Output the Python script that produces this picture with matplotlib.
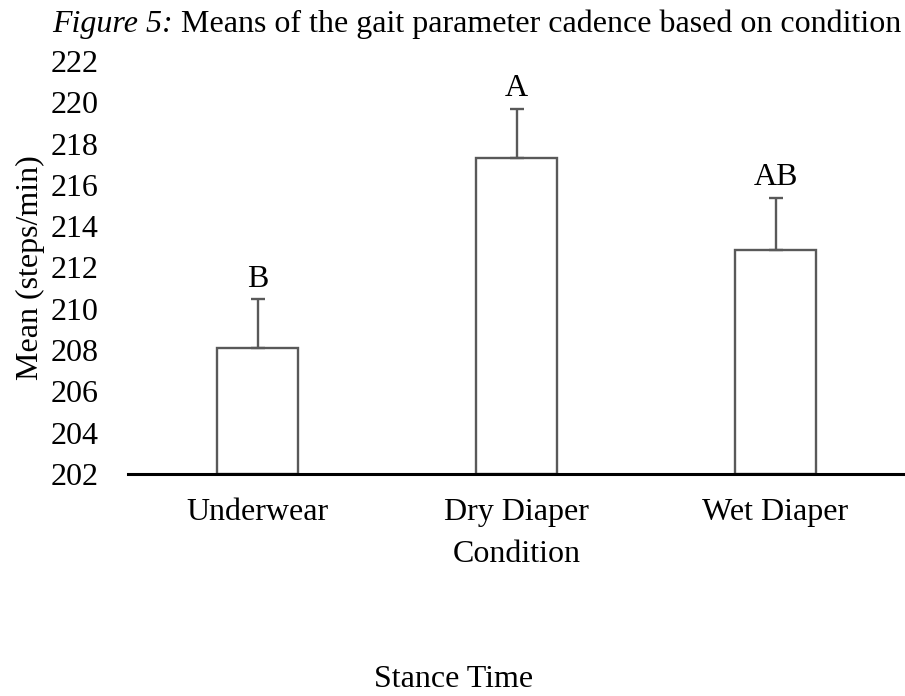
import matplotlib
matplotlib.use("Agg")
import matplotlib.pyplot as plt

categories = ["Underwear", "Dry Diaper", "Wet Diaper"]
means = [208.1, 217.3, 212.85]
errors = [2.37, 2.38, 2.52]
letters = ["B", "A", "AB"]
yticks = list(range(202, 223, 2))

plt.rcParams['font.family'] = ['Liberation Serif', 'DejaVu Serif']
FS = 23

fig = plt.figure(figsize=(9.05, 6.96), dpi=100)
W, H = 905, 696
ax = fig.add_axes([128 / W, 1 - 474 / H, (905 - 128) / W, (474 - 61) / H])

x = list(range(len(categories)))
ax.bar(x, [m - 202 for m in means], bottom=202, width=0.315, color="white",
       edgecolor="#595959", linewidth=1.7, zorder=2)
ax.errorbar(x, means, yerr=[[0] * 3, errors], fmt="none", ecolor="#595959",
            elinewidth=1.7, capsize=5, capthick=1.7, zorder=3)
for xi, m, e, lab in zip(x, means, errors, letters):
    ax.annotate(lab, (xi, m + e), xytext=(0, 9), textcoords="offset points",
                ha="center", va="baseline", fontsize=FS)

ax.set_xlim(-0.5, 2.5)
ax.set_ylim(202, 222)
ax.set_yticks(yticks)
ax.set_xticks(x)
ax.set_xticklabels(categories, fontsize=FS)
ax.tick_params(axis="y", labelsize=FS, length=0, pad=21.5)
ax.tick_params(axis="x", length=0, pad=17.5)
for s in ["top", "right", "left"]:
    ax.spines[s].set_visible(False)
ax.spines["bottom"].set_linewidth(2.2)
ax.spines["bottom"].set_color("black")
ax.spines["bottom"].set_zorder(5)

ax.set_ylabel("Mean (steps/min)", fontsize=FS, va="center", ha="center")
ax.yaxis.set_label_coords((30 - 128) / 777, 0.5)
ax.set_xlabel("Condition", fontsize=FS, va="baseline", ha="center")
ax.xaxis.set_label_coords(0.5, (474 - 562) / 413)

t1 = fig.text(52 / W, 1 - 32 / H, "Figure 5:", fontsize=FS, style="italic",
              ha="left", va="baseline")
fig.canvas.draw()
bb = t1.get_window_extent()
fig.text(bb.x1 / W, 1 - 32 / H, " Means of the gait parameter cadence based on condition",
         fontsize=FS, ha="left", va="baseline")
fig.text(454 / W, 1 - 687 / H, "Stance Time", fontsize=FS, ha="center", va="baseline")

fig.savefig("out.png", dpi=100)
